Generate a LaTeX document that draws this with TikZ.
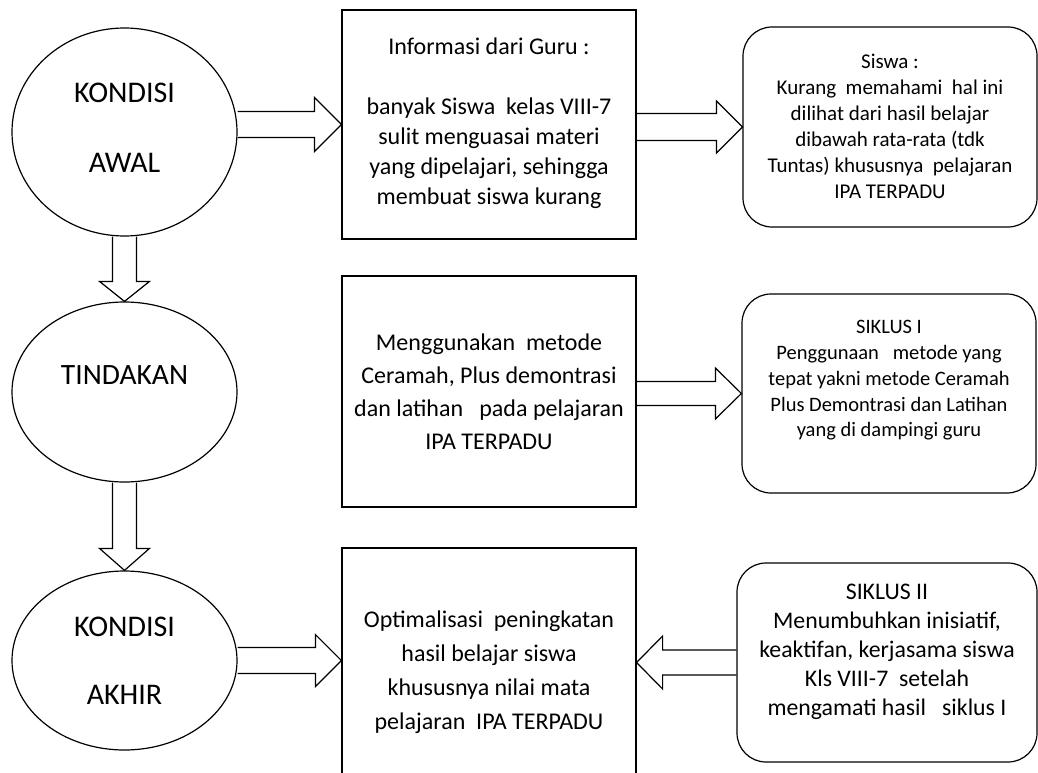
\documentclass[tikz,border=0pt]{standalone}
\usepackage{fontspec}
\setmainfont{Carlito}
\usetikzlibrary{shapes.geometric,calc}
\tikzset{
  oval/.style={ellipse, draw, line width=1.2pt, inner sep=0pt},
  sqbox/.style={rectangle, draw, line width=1.2pt, inner sep=0pt},
  rbox/.style={rectangle, rounded corners=29pt, draw, line width=1.2pt, inner sep=0pt},
  barrow/.style={draw, line width=1.2pt, line join=miter},
  txt/.style={align=center, inner sep=0pt, text=black}
}
% horizontal block arrow: from, to(tip), shaft half width, head half width, head length (signed)
\newcommand{\BArrowH}[5]{%
  \draw[barrow] ($(#1)+(0,#3)$) -- ($(#2)+(0,#3)-(#5,0)$) -- ($(#2)+(0,#4)-(#5,0)$) -- (#2)
    -- ($(#2)-(#5,#4)$) -- ($(#2)-(#5,#3)$) -- ($(#1)-(0,#3)$);}
% vertical (downward) block arrow
\newcommand{\BArrowV}[5]{%
  \draw[barrow] ($(#1)+(#3,0)$) -- ($(#2)+(#3,0)-(0,#5)$) -- ($(#2)+(#4,0)-(0,#5)$) -- (#2)
    -- ($(#2)-(#4,#5)$) -- ($(#2)-(#3,#5)$) -- ($(#1)-(#3,0)$);}
\begin{document}
\begin{tikzpicture}[x=1pt, y=-1pt]
\useasboundingbox (0,0) rectangle (1038,773);
\clip (0,0) rectangle (1038,773);

% ellipses
\node[oval, minimum width=225pt, minimum height=208pt] (e1) at (124.5,132) {};
\node[oval, minimum width=225pt, minimum height=180pt] (e2) at (124.5,392) {};
\node[oval, minimum width=225pt, minimum height=179pt] (e3) at (124.5,660.5) {};
\node[txt, font=\fontsize{30}{70}\selectfont] (e1t) at (124.5,128) {KONDISI\\AWAL};
\node[txt, font=\fontsize{29.5}{35}\selectfont] (e2t) at (124.5,375) {TINDAKAN};
\node[txt, font=\fontsize{30}{68}\selectfont] (e3t) at (124.5,661) {KONDISI\\AKHIR};

% middle boxes
\node[sqbox, minimum width=294pt, minimum height=229pt] (r1) at (489,124.5) {};
\node[sqbox, minimum width=294pt, minimum height=231pt] (r2) at (489,391.5) {};
\node[sqbox, minimum width=294pt, minimum height=248pt] (r3) at (489,672) {};
\node[txt, font=\fontsize{24}{30}\selectfont] (r1t) at (489,123.5)
  {Informasi dari Guru :\\[30pt]banyak Siswa\ \ kelas VIII-7\\sulit menguasai materi\\yang dipelajari, sehingga\\membuat siswa kurang};
\node[txt, font=\fontsize{24}{33}\selectfont] (r2t) at (489,392)
  {Menggunakan\ \ metode\\Ceramah, Plus demontrasi\\dan latihan\ \ \ pada pelajaran\\IPA TERPADU};
\node[txt, font=\fontsize{24}{34}\selectfont] (r3t) at (489,672.5)
  {Optimalisasi\ \ peningkatan\\hasil belajar siswa\\khususnya nilai mata\\pelajaran\ \ IPA TERPADU};

% right rounded boxes
\node[rbox, minimum width=294pt, minimum height=200pt] (rr1) at (890,127) {};
\node[rbox, minimum width=294pt, minimum height=199pt] (rr2) at (889,393.5) {};
\node[rbox, minimum width=300pt, minimum height=199pt] (rr3) at (887,662.5) {};
\node[txt, font=\fontsize{21}{26}\selectfont] (rr1t) at (890,126.5)
  {Siswa :\\Kurang\ \ memahami\ \ hal ini\\dilihat dari hasil belajar\\dibawah rata-rata (tdk\\Tuntas) khususnya\ \ pelajaran\\IPA TERPADU};
\node[txt, font=\fontsize{20.5}{25.7}\selectfont] (rr2t) at (889,380.5)
  {SIKLUS I\\Penggunaan\ \ \ metode yang\\tepat yakni metode Ceramah\\Plus Demontrasi dan Latihan\\yang di dampingi guru};
\node[txt, font=\fontsize{23.8}{29}\selectfont] (rr3t) at (887,652)
  {SIKLUS II\\Menumbuhkan inisiatif,\\keaktifan, kerjasama siswa\\Kls VIII-7\ \ setelah\\mengamati hasil\ \ \ siklus I};

% connector end points
\coordinate (a1s) at (e1.east |- r1.west);
\coordinate (a2s) at (r1.east |- rr1.west);
\coordinate (a5s) at (r2.east |- rr2.west);
\coordinate (a6t) at (r3.west |- e3.east);
\coordinate (a7t) at (r3.east |- rr3.west);

% block arrows
\BArrowH{a1s}{r1.west}{13}{27}{27}
\BArrowH{a2s}{rr1.west}{13.5}{26}{26}
\BArrowH{a5s}{rr2.west}{12}{25.5}{26}
\BArrowH{e3.east}{a6t}{13}{26}{26}
\BArrowH{rr3.west}{a7t}{12.5}{26.5}{-26}
\BArrowV{e1.south}{e2.north}{12}{25}{20}
\BArrowV{e2.south}{e3.north}{12}{25}{22}
\end{tikzpicture}
\end{document}
